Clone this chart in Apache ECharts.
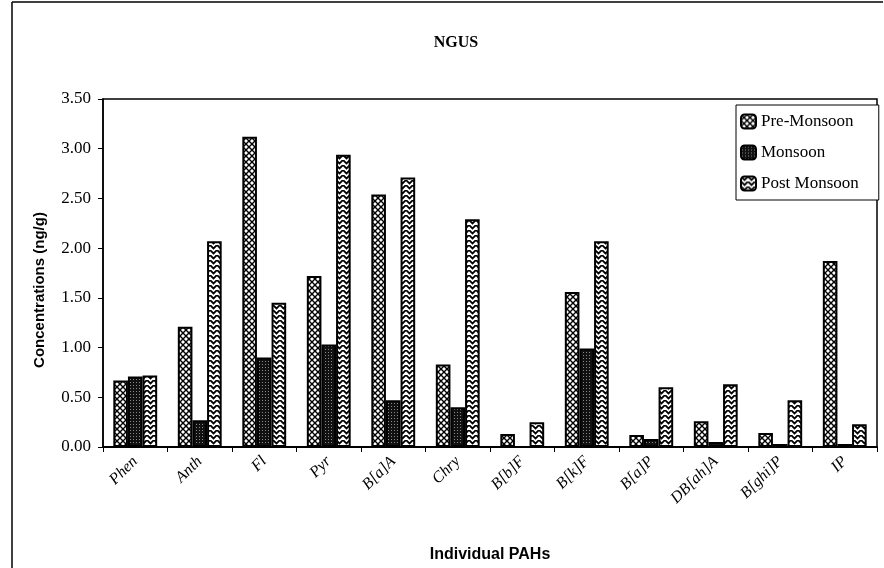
<!DOCTYPE html>
<html>
<head>
<meta charset="utf-8">
<script src="https://cdn.jsdelivr.net/npm/echarts@6/dist/echarts.min.js"></script>
<style>
html,body{margin:0;padding:0;background:#fff;}
#chart{width:884px;height:568px;}
</style>
</head>
<body>
<div id="chart"></div>
<script>
const categories = ['Phen','Anth','Fl','Pyr','B[a]A','Chry','B[b]F','B[k]F','B[a]P','DB[ah]A','B[ghi]P','IP'];
const preMonsoon  = [0.67, 1.21, 3.12, 1.72, 2.54, 0.83, 0.13, 1.56, 0.12, 0.26, 0.14, 1.87];
const monsoon     = [0.71, 0.27, 0.90, 1.03, 0.47, 0.40, 0.00, 0.99, 0.08, 0.05, 0.03, 0.03];
const postMonsoon = [0.72, 2.07, 1.45, 2.94, 2.71, 2.29, 0.25, 2.07, 0.60, 0.63, 0.47, 0.23];
const yTicks = [0, 0.5, 1, 1.5, 2, 2.5, 3, 3.5];

function makePattern(kind){
  const c = document.createElement('canvas');
  const ctx = c.getContext('2d');
  if(kind === 'diamond'){
    c.width = 6; c.height = 6;
    ctx.fillStyle = '#fff'; ctx.fillRect(0,0,6,6);
    ctx.strokeStyle = '#000'; ctx.lineWidth = 1.4;
    ctx.beginPath();
    ctx.moveTo(0,0); ctx.lineTo(6,6);
    ctx.moveTo(6,0); ctx.lineTo(0,6);
    ctx.stroke();
  } else if(kind === 'dots'){
    c.width = 3; c.height = 3;
    ctx.fillStyle = '#111'; ctx.fillRect(0,0,3,3);
    ctx.fillStyle = '#888'; ctx.fillRect(1,1,1,1);
  } else {
    c.width = 7; c.height = 5;
    ctx.fillStyle = '#fff'; ctx.fillRect(0,0,7,5);
    ctx.strokeStyle = '#000'; ctx.lineWidth = 1.8;
    ctx.beginPath();
    ctx.moveTo(0,0); ctx.lineTo(3.5,3.5); ctx.lineTo(7,0);
    ctx.stroke();
  }
  return {image: c, repeat: 'repeat'};
}

const serif = '"Liberation Serif", "DejaVu Serif", serif';
const sansBold = '"Liberation Sans", Arial, sans-serif';
const chart = echarts.init(document.getElementById('chart'));
const barStyle = (kind) => ({color: makePattern(kind), borderColor: '#000', borderWidth: 2});

chart.setOption({
  animation: false,
  backgroundColor: '#fff',
  title: {
    text: 'NGUS', left: 451, top: 30, textAlign: 'center',
    textStyle: {fontFamily: serif, fontWeight: 'bold', fontSize: 16, color: '#000'}
  },
  legend: {
    orient: 'vertical', left: 736, top: 105,
    backgroundColor: '#fff', borderColor: '#000', borderWidth: 1,
    padding: [8, 20, 8, 4], itemGap: 14, itemWidth: 15, itemHeight: 14,
    textStyle: {fontFamily: serif, fontSize: 17, color: '#000'},
    data: ['Pre-Monsoon','Monsoon','Post Monsoon']
  },
  grid: {left: 103, top: 99, right: 7, bottom: 118, show: true, borderColor: '#000', borderWidth: 1.5},
  xAxis: {
    type: 'category', data: categories,
    name: 'Individual PAHs', nameLocation: 'middle', nameGap: 100,
    nameTextStyle: {fontFamily: sansBold, fontWeight: 'bold', fontSize: 16, color: '#000'},
    axisLine: {lineStyle: {color: '#000', width: 2}},
    axisTick: {show: true, alignWithLabel: false, length: 5, lineStyle: {color: '#000'}},
    axisLabel: {rotate: 45, fontFamily: serif, fontStyle: 'italic', fontSize: 16, color: '#000', margin: 12, interval: 0}
  },
  yAxis: {
    type: 'value', min: 0, max: 3.5, interval: 0.5,
    axisLine: {show: true, lineStyle: {color: '#000', width: 1.5}},
    axisTick: {show: true, length: 5, lineStyle: {color: '#000'}},
    splitLine: {show: false},
    axisLabel: {fontFamily: serif, fontSize: 17, color: '#000', margin: 12, formatter: v => v.toFixed(2)}
  },
  graphic: [
    {type: 'line', shape: {x1: 12, y1: 2, x2: 883, y2: 2}, style: {stroke: '#000', lineWidth: 1.5}, silent: true},
    {type: 'line', shape: {x1: 12, y1: 2, x2: 12, y2: 568}, style: {stroke: '#000', lineWidth: 1.5}, silent: true},
    {type: 'text', x: 40, y: 290, rotation: Math.PI/2,
     style: {text: 'Concentrations (ng/g)', fill: '#000', font: 'bold 15px "Liberation Sans", Arial, sans-serif', textAlign: 'center', textVerticalAlign: 'middle'}}
  ],
  series: [
    {name: 'Pre-Monsoon', type: 'bar', data: preMonsoon, barGap: '0%', barCategoryGap: '32%', itemStyle: barStyle('diamond')},
    {name: 'Monsoon', type: 'bar', data: monsoon, itemStyle: barStyle('dots')},
    {name: 'Post Monsoon', type: 'bar', data: postMonsoon, itemStyle: barStyle('chevron')}
  ]
});
</script>
</body>
</html>
